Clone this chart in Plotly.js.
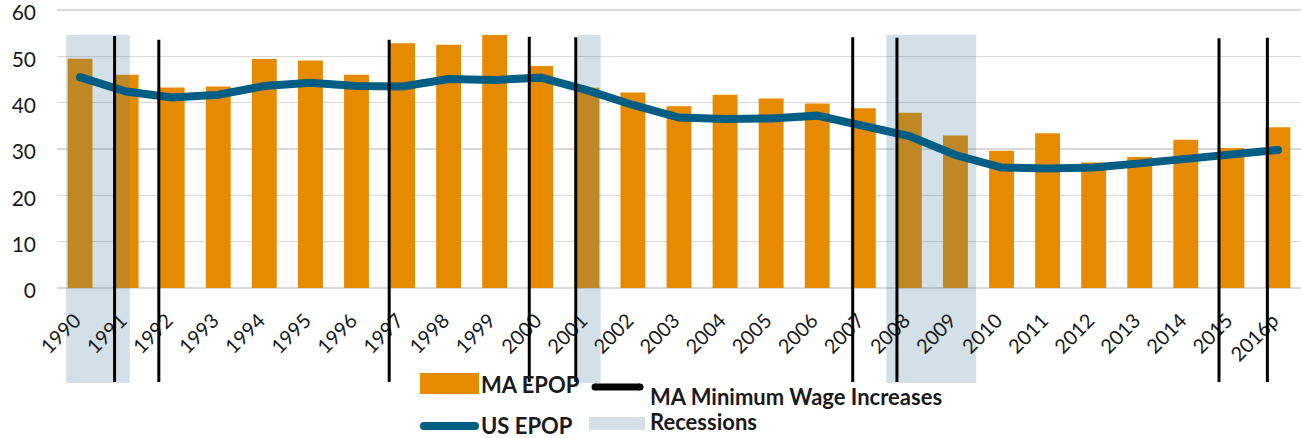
<!DOCTYPE html>
<html><head><meta charset="utf-8">
<script src="https://cdn.plot.ly/plotly-3.0.1.min.js"></script>
<style>html,body{margin:0;padding:0;background:#fff;} #chart{width:1301px;height:438px;}</style>
</head><body><div id="chart"></div>
<script>
const years = ['1990','1991','1992','1993','1994','1995','1996','1997','1998','1999','2000','2001','2002','2003','2004','2005','2006','2007','2008','2009','2010','2011','2012','2013','2014','2015','2016p'];
const maEpop = [49.5,46.0,43.3,43.5,49.4,49.1,46.0,52.8,52.5,54.6,47.9,43.2,42.2,39.2,41.7,40.9,39.8,38.8,37.8,32.9,29.6,33.4,27.1,28.3,32.0,30.2,34.7];
const usEpop = [45.5,42.4,41.1,41.7,43.6,44.3,43.6,43.5,45.1,44.9,45.4,42.7,39.5,36.8,36.5,36.6,37.2,35.2,32.8,28.7,26.0,25.8,26.0,26.9,27.8,28.9,29.8];
const recessionStart = [1989.70, 2000.80, 2007.50];
const recessionEnd = [1991.08, 2001.30, 2009.45];
const minWageIncreases = [1990.75, 1991.71, 1996.71, 1999.75, 2000.76, 2006.77, 2007.73, 2014.72, 2015.77];
const minWageTop = [54.4, 53.6, 53.6, 54.2, 54.1, 54.1, 54.0, 53.9, 54.0];
const yTicks = [0,10,20,30,40,50,60];
const legendLabels = ['MA EPOP','MA Minimum Wage Increases','US EPOP','Recessions'];

const baseYear = 1990;
const idx = years.map((_, i) => i);
const SHADE_TOP = 54.6, SHADE_BOT = -20.5, LINE_BOT = -20.3;
const ORANGE = '#E68A00', BLUE = '#005E85', SHADE = 'rgba(72,125,155,0.24)';
const FONT = 'Lato, "Open Sans", sans-serif';

const W = 1301, H = 438, ML = 57, MR = 0, MT = 4, MB = 53;
const PW = W - ML - MR, PH = H - MT - MB;
const px = x => (x - ML) / PW;
const py = y => (H - MB - y) / PH;

const traces = [];
traces.push({type:'bar', x: idx, y: maEpop, marker:{color: ORANGE, line:{width:0}}, width: 0.54, hoverinfo:'skip', showlegend:false});
for (let k = 0; k < recessionStart.length; k++) {
  const s = recessionStart[k] - baseYear, e = recessionEnd[k] - baseYear;
  traces.push({type:'scatter', mode:'lines', x:[s,e,e,s,s], y:[SHADE_BOT,SHADE_BOT,SHADE_TOP,SHADE_TOP,SHADE_BOT],
    fill:'toself', fillcolor: SHADE, line:{width:0}, hoverinfo:'skip', showlegend:false});
}
traces.push({type:'scatter', mode:'lines', x: idx, y: usEpop, line:{color: BLUE, width: 8}, hoverinfo:'skip', showlegend:false});
traces.push({type:'scatter', mode:'markers', x:[idx[0], idx[idx.length-1]], y:[usEpop[0], usEpop[usEpop.length-1]], marker:{color: BLUE, size: 8}, hoverinfo:'skip', showlegend:false});

const shapes = minWageIncreases.map((d, i) => ({type:'line', xref:'x', yref:'y', x0: d - baseYear, x1: d - baseYear, y0: LINE_BOT, y1: minWageTop[i], line:{color:'#000', width:3}, layer:'above'}));

// legend (drawn manually)
const rectP = (x0,x1,y0,y1,fill) => ({type:'rect', xref:'paper', yref:'paper', x0:px(x0), x1:px(x1), y0:py(y1), y1:py(y0), fillcolor:fill, line:{width:0}, layer:'above'});
const lineP = (x0,x1,y,c,w) => ({type:'line', xref:'paper', yref:'paper', x0:px(x0), x1:px(x1), y0:py(y), y1:py(y), line:{color:c, width:w}, layer:'above'});
const dotP = (x,y,r,c) => ({type:'circle', xref:'paper', yref:'paper', x0:px(x-r), x1:px(x+r), y0:py(y+r), y1:py(y-r), fillcolor:c, line:{width:0}, layer:'above'});
shapes.push(rectP(420,479,373,394,ORANGE));
shapes.push(lineP(595,640,387,'#000',7), dotP(595,387,3.5,'#000'), dotP(640,387,3.5,'#000'));
shapes.push(lineP(424,475,426,BLUE,8), dotP(424,426,4,BLUE), dotP(475,426,4,BLUE));
shapes.push(rectP(589,645,417,430,SHADE));

const legPos = [[479,384],[648,396],[479,425],[648,421.5]];
const annotations = legendLabels.map((t,i) => ({xref:'paper', yref:'paper', x:px(legPos[i][0]), y:py(legPos[i][1]), xanchor:'left', yanchor:'middle', text:'<b>'+t+'</b>', showarrow:false, font:{family:FONT, size:22, color:'#1a1a1a'}}));

const scale = (288 - 10) / 60;           // px per unit: 60 at y=10, 0 at y=288
const yMin = -(H - MB - 288) / scale;
const yMax = 60 + (10 - MT) / scale;
const layout = {
  width: W, height: H, margin:{l:ML, r:MR, t:MT, b:MB, pad:0},
  paper_bgcolor:'#fff', plot_bgcolor:'#fff', showlegend:false,
  font:{family: FONT, color:'#1a1a1a'},
  xaxis:{type:'linear', range:[-0.5, 26.5], tickvals: idx, ticktext: years, tickangle:-45,
    anchor:'free', position: py(288), showgrid:false, zeroline:false, showline:false, ticks:'',
    ticklabelstandoff: 16, ticklabelshift: -5, ticklabeloverflow:'allow',
    tickfont:{family:FONT, size:20, color:'#1a1a1a'}, fixedrange:true},
  yaxis:{range:[yMin, yMax], tickvals: yTicks, showgrid:true, gridcolor:'#d9d9d9', gridwidth:1.4,
    zeroline:false, showline:false, ticks:'', ticklabelstandoff: 20, ticklabelshift: 3, ticklabeloverflow:'allow',
    tickfont:{family:FONT, size:21, color:'#1a1a1a'}, fixedrange:true},
  shapes, annotations
};
Plotly.newPlot('chart', traces, layout, {displayModeBar:false, staticPlot:true});
</script></body></html>
